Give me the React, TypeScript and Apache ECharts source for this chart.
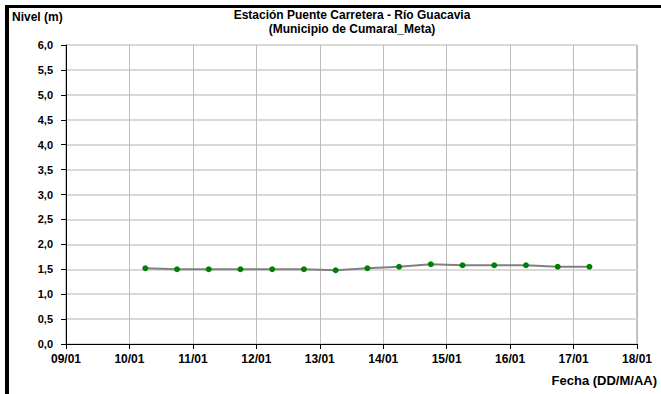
import React, { useEffect, useRef } from "react";
import * as echarts from "echarts";

const titulo = "Estación Puente Carretera - Río Guacavia";
const subtitulo = "(Municipio de Cumaral_Meta)";
const ejeY = "Nivel (m)";
const ejeX = "Fecha (DD/M/AA)";

const etiquetasX = ["09/01", "10/01", "11/01", "12/01", "13/01", "14/01", "15/01", "16/01", "17/01", "18/01"];

const fechas = [
  "10/01 06:00", "10/01 18:00", "11/01 06:00", "11/01 18:00", "12/01 06:00",
  "12/01 18:00", "13/01 06:00", "13/01 18:00", "14/01 06:00", "14/01 18:00",
  "15/01 06:00", "15/01 18:00", "16/01 06:00", "16/01 18:00", "17/01 06:00",
];
const niveles = [1.52, 1.5, 1.5, 1.5, 1.5, 1.5, 1.48, 1.52, 1.55, 1.6, 1.58, 1.58, 1.58, 1.55, 1.55];

const diaBase = 9;
function aDias(f: string): number {
  const [fecha, hora] = f.split(" ");
  const dia = parseInt(fecha.split("/")[0], 10);
  const h = parseInt(hora.split(":")[0], 10);
  return dia - diaBase + h / 24;
}

export default function App() {
  const ref = useRef<HTMLDivElement>(null);
  useEffect(() => {
    document.body.style.margin = "0";
    if (!ref.current) return;
    const chart = echarts.init(ref.current, null, { renderer: "svg" });
    const font = "'Liberation Sans', Arial, sans-serif";
    chart.setOption({
      animation: false,
      backgroundColor: "#ffffff",
      textStyle: { fontFamily: font },
      grid: {
        left: 66,
        right: 24,
        top: 45,
        bottom: 50,
        show: true,
        borderColor: "#8c8c8c",
        borderWidth: 1,
      },
      graphic: [
        { type: "rect", shape: { x: 5, y: 5, width: 656, height: 3 }, style: { fill: "#000" }, z: 100 },
        { type: "rect", shape: { x: 5, y: 5, width: 4, height: 389 }, style: { fill: "#000" }, z: 100 },
        {
          type: "text",
          x: 352,
          y: 9,
          style: { text: titulo, font: `bold 12px ${font}`, fill: "#000", textAlign: "center" },
        },
        {
          type: "text",
          x: 352,
          y: 23,
          style: { text: subtitulo, font: `bold 12px ${font}`, fill: "#000", textAlign: "center" },
        },
        {
          type: "text",
          x: 12,
          y: 11,
          style: { text: ejeY, font: `bold 12px ${font}`, fill: "#000", textAlign: "left" },
        },
        {
          type: "text",
          x: 657,
          y: 374,
          style: { text: ejeX, font: `bold 13px ${font}`, fill: "#000", textAlign: "right" },
        },
      ],
      xAxis: {
        type: "value",
        min: 0,
        max: etiquetasX.length - 1,
        interval: 1,
        axisLine: { show: true, lineStyle: { color: "#000", width: 1 } },
        axisTick: { show: true, length: 5, lineStyle: { color: "#000" } },
        axisLabel: {
          margin: 9,
          fontSize: 12,
          fontWeight: "bold",
          color: "#000",
          fontFamily: font,
          formatter: (v: number) => etiquetasX[Math.round(v)] ?? "",
        },
        splitLine: { show: true, lineStyle: { color: "#bdbdbd", width: 1 } },
      },
      yAxis: {
        type: "value",
        min: 0,
        max: 6,
        interval: 0.5,
        axisLine: { show: true, lineStyle: { color: "#000", width: 1 } },
        axisTick: { show: true, length: 5, lineStyle: { color: "#000" } },
        axisLabel: {
          margin: 13,
          fontSize: 11,
          fontWeight: "bold",
          color: "#000",
          fontFamily: font,
          formatter: (v: number) => v.toFixed(1).replace(".", ","),
        },
        splitLine: { show: true, lineStyle: { color: "#d9d9d9", width: 2 } },
      },
      series: [
        {
          type: "line",
          data: fechas.map((f, i) => [aDias(f), niveles[i]]),
          lineStyle: { color: "#808080", width: 2 },
          symbol: "circle",
          symbolSize: 6,
          itemStyle: { color: "#008000", borderWidth: 0 },
          z: 5,
        },
      ],
    });
    return () => chart.dispose();
  }, []);
  return <div ref={ref} style={{ width: 661, height: 394 }} />;
}
